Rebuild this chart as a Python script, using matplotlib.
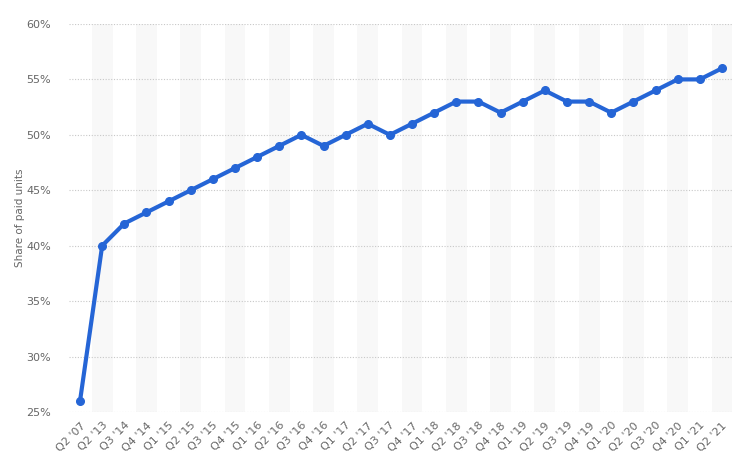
import matplotlib
matplotlib.use("Agg")
import matplotlib.pyplot as plt
from matplotlib.ticker import FuncFormatter

# ─── Data ─────────────────────────────────────────────────────────────────
quarters = ["Q2 '07", "Q2 '13", "Q3 '14", "Q4 '14", "Q1 '15", "Q2 '15", "Q3 '15",
            "Q4 '15", "Q1 '16", "Q2 '16", "Q3 '16", "Q4 '16", "Q1 '17", "Q2 '17",
            "Q3 '17", "Q4 '17", "Q1 '18", "Q2 '18", "Q3 '18", "Q4 '18", "Q1 '19",
            "Q2 '19", "Q3 '19", "Q4 '19", "Q1 '20", "Q2 '20", "Q3 '20", "Q4 '20",
            "Q1 '21", "Q2 '21"]
share = [26, 40, 42, 43, 44, 45, 46, 47, 48, 49, 50, 49, 50, 51, 50, 51, 52, 53,
         53, 52, 53, 54, 53, 53, 52, 53, 54, 55, 55, 56]
y_ticks = [25, 30, 35, 40, 45, 50, 55, 60]

# ─── Plot ─────────────────────────────────────────────────────────────────
fig = plt.figure(figsize=(7.4, 4.73), dpi=100)
ax = fig.add_axes([0.0932, 0.129, 0.8973, 0.8203])

x = list(range(len(quarters)))

# alternating column bands
for i in x:
    if i % 2 == 1:
        ax.axvspan(i - 0.47, i + 0.47, color="#f8f8f8", zorder=0, lw=0)

for t in y_ticks:
    ax.axhline(t, color="#c8c8c8", lw=0.8, ls=(0, (1, 1.5)), zorder=1)

ax.plot(x, share, color="#2565d6", lw=3, marker="o", ms=5.5, zorder=3,
        solid_joinstyle="round")

ax.set_xlim(-0.5, len(quarters) - 0.5)
ax.set_ylim(25, 60)
ax.set_yticks(y_ticks)
ax.yaxis.set_major_formatter(FuncFormatter(lambda v, _: f"{v:.0f}%"))
ax.set_xticks(x)
ax.set_xticklabels(quarters, rotation=45, ha="right", rotation_mode="anchor")

for spine in ax.spines.values():
    spine.set_visible(False)
ax.tick_params(axis="both", length=0, colors="#666666", labelsize=8)
ax.tick_params(axis="x", pad=6)
ax.tick_params(axis="y", pad=13)

ax.set_ylabel("Share of paid units", color="#666666", fontsize=7.5)
ax.yaxis.set_label_coords(-0.066, 0.5)

fig.savefig("out.png", dpi=100)
